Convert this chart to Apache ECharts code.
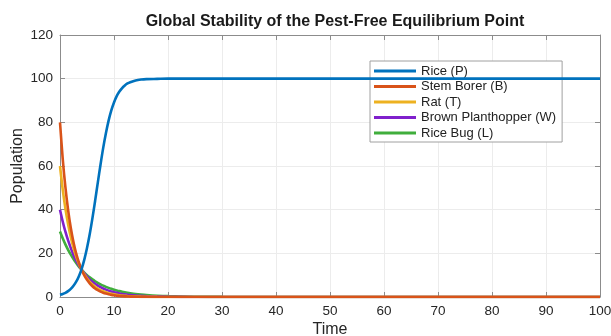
<!DOCTYPE html>
<html>
<head>
<meta charset="utf-8">
<script src="https://cdn.jsdelivr.net/npm/echarts@6/dist/echarts.min.js"></script>
<style>
  html, body { margin: 0; padding: 0; background: #fff; overflow: hidden; }
  #chart { width: 611px; height: 336px; }
</style>
</head>
<body>
<div id="chart"></div>
<script>
// time points
const times = [0, 0.5, 1, 1.5, 2, 2.5, 3, 3.5, 4, 4.5, 5, 5.5, 6, 6.5, 7, 7.5, 8, 8.5, 9, 9.5,
  10, 10.5, 11, 11.5, 12, 12.5, 13, 14, 15, 16, 18, 20, 25, 30, 40, 50, 60, 70, 80, 90, 100]

const rice = [1.0, 1.39, 1.93, 2.69, 3.72, 5.13, 7.0, 9.53, 12.8, 17.1, 22.4, 28.7, 36.0, 44.0, 52.4, 60.6,
  68.3, 75.0, 80.8, 85.5, 89.1, 92.0, 94.1, 95.7, 96.9, 97.8, 98.4, 99.2, 99.6, 99.8, 99.9, 100,
  100, 100, 100, 100, 100, 100, 100, 100, 100]
const stemBorer = [80, 63.4, 50.3, 39.9, 31.6, 25.1, 19.9, 15.8, 12.5, 9.91, 7.86, 6.23, 4.94, 3.92, 3.11, 2.46,
  1.95, 1.55, 1.23, 0.97, 0.77, 0.61, 0.49, 0.38, 0.30, 0.24, 0.19, 0.12, 0.076, 0.048, 0.019, 0.007,
  0, 0, 0, 0, 0, 0, 0, 0, 0]
const rat = [60, 49.3, 40.5, 33.3, 27.4, 22.5, 18.5, 15.2, 12.5, 10.3, 8.46, 6.95, 5.72, 4.70, 3.86, 3.18,
  2.61, 2.15, 1.76, 1.45, 1.19, 0.98, 0.81, 0.66, 0.55, 0.45, 0.37, 0.25, 0.17, 0.11, 0.05, 0.02,
  0, 0, 0, 0, 0, 0, 0, 0, 0]
const planthopper = [40, 34.6, 29.9, 25.9, 22.4, 19.3, 16.7, 14.5, 12.5, 10.8, 9.35, 8.08, 6.99, 6.04, 5.22, 4.52,
  3.90, 3.38, 2.92, 2.52, 2.18, 1.89, 1.63, 1.41, 1.22, 1.05, 0.91, 0.68, 0.51, 0.38, 0.21, 0.12,
  0.03, 0.006, 0, 0, 0, 0, 0, 0, 0]
const riceBug = [30, 26.9, 24.1, 21.6, 19.4, 17.4, 15.6, 13.9, 12.5, 11.2, 10.0, 8.98, 8.05, 7.22, 6.47, 5.80,
  5.20, 4.66, 4.17, 3.74, 3.35, 3.01, 2.69, 2.41, 2.16, 1.94, 1.74, 1.39, 1.12, 0.90, 0.58, 0.38,
  0.13, 0.04, 0.005, 0, 0, 0, 0, 0, 0]

const seriesNames = ['Rice (P)', 'Stem Borer (B)', 'Rat (T)', 'Brown Planthopper (W)', 'Rice Bug (L)']
const seriesColors = ['#0072BD', '#D95319', '#EDB120', '#8020CC', '#40AE3C']
const seriesValues = [rice, stemBorer, rat, planthopper, riceBug]

const font = 'Arial, "Liberation Sans", Helvetica, sans-serif'
const axisGrey = '#8c8c8c'

const chart = echarts.init(document.getElementById('chart'))

const seriesList = seriesValues.map((vals, i) => ({
  name: seriesNames[i],
  type: 'line',
  xAxisIndex: 0,
  yAxisIndex: 0,
  data: times.map((t, j) => [t, vals[j]]),
  showSymbol: false,
  smooth: 0.3,
  color: seriesColors[i],
  lineStyle: { width: 2.6, color: seriesColors[i] },
  z: 10 - i
}))

// shared look of the four box edges
function boxAxis(extra) {
  return Object.assign({
    type: 'value',
    axisLine: { show: true, onZero: false, lineStyle: { color: axisGrey, width: 1 } },
    axisTick: { show: true, inside: true, length: 5, lineStyle: { color: axisGrey } },
    axisLabel: { show: false },
    splitLine: { show: false }
  }, extra)
}

chart.setOption({
  animation: false,
  textStyle: { fontFamily: font },
  title: {
    text: 'Global Stability of the Pest-Free Equilibrium Point',
    left: 330,
    top: 9,
    textAlign: 'center',
    textStyle: { fontSize: 16, fontWeight: 'bold', color: '#1a1a1a', fontFamily: font }
  },
  legend: {
    orient: 'vertical',
    left: 370,
    top: 61,
    padding: [3, 6, 2, 4],
    itemGap: 1.5,
    itemWidth: 42,
    itemHeight: 3,
    icon: 'rect',
    backgroundColor: '#fff',
    borderColor: '#a0a0a0',
    borderWidth: 1,
    textStyle: { fontSize: 13, lineHeight: 14, color: '#222', fontFamily: font },
    data: seriesNames
  },
  grid: { left: 60, right: 11, top: 35, bottom: 39, containLabel: false, outerBoundsMode: 'none' },
  xAxis: [
    boxAxis({
      min: 0, max: 100, interval: 10,
      name: 'Time',
      nameLocation: 'middle',
      nameGap: 25,
      nameMoveOverlap: false,
      nameTextStyle: { fontSize: 16, color: '#262626' },
      axisLabel: { show: true, fontSize: 13.5, color: '#262626', margin: 7 },
      splitLine: { show: true, lineStyle: { color: '#ececec', width: 1 } }
    }),
    boxAxis({ position: 'top', min: 0, max: 100, interval: 10 })
  ],
  yAxis: [
    boxAxis({
      min: 0, max: 120, interval: 20,
      name: 'Population',
      nameLocation: 'middle',
      nameGap: 34,
      nameMoveOverlap: false,
      nameTextStyle: { fontSize: 16, color: '#262626' },
      axisLabel: { show: true, fontSize: 13.5, color: '#262626', margin: 7 },
      splitLine: { show: true, lineStyle: { color: '#ececec', width: 1 } }
    }),
    boxAxis({ position: 'right', min: 0, max: 120, interval: 20 })
  ],
  series: seriesList
})
</script>
</body>
</html>
